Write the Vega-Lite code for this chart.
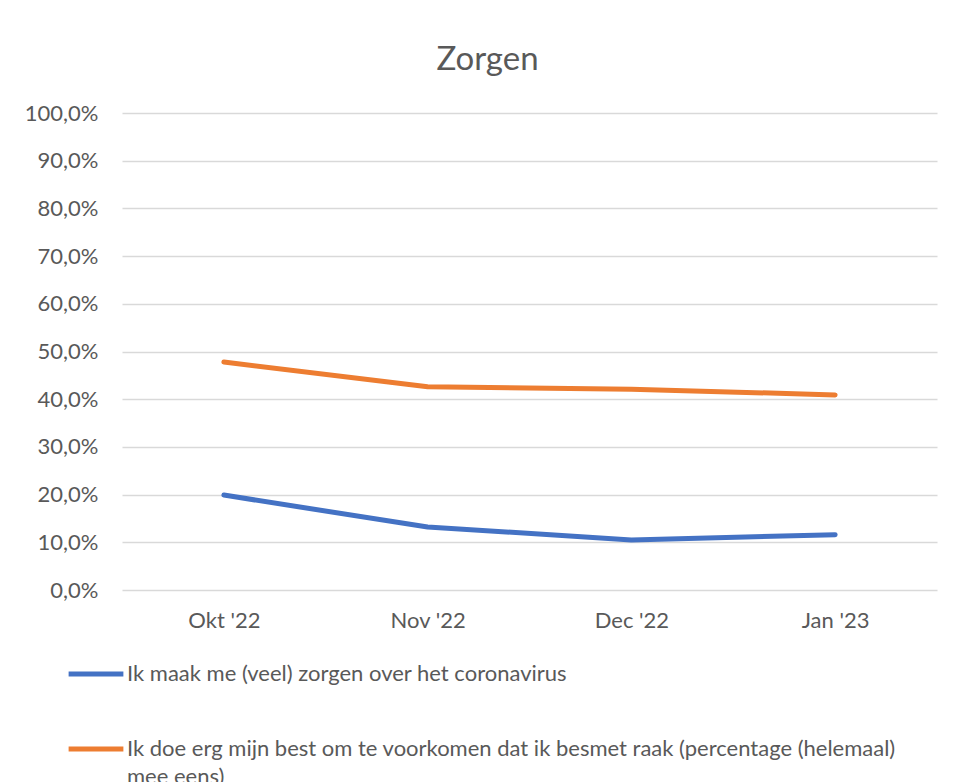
{
  "$schema": "https://vega.github.io/schema/vega-lite/v6.json",
  "width": 815,
  "height": 477,
  "autosize": "none",
  "padding": {"left": 122, "top": 113, "right": 17, "bottom": 192},
  "background": "white",
  "title": {
    "text": "Zorgen",
    "fontSize": 33,
    "font": "Lato",
    "fontWeight": "normal",
    "color": "#595959",
    "anchor": "middle",
    "dx": -42,
    "offset": 25
  },
  "data": {
    "values": [
      {"maand": "Okt '22", "reeks": "Ik maak me (veel) zorgen over het coronavirus", "waarde": 0.199},
      {"maand": "Nov '22", "reeks": "Ik maak me (veel) zorgen over het coronavirus", "waarde": 0.132},
      {"maand": "Dec '22", "reeks": "Ik maak me (veel) zorgen over het coronavirus", "waarde": 0.105},
      {"maand": "Jan '23", "reeks": "Ik maak me (veel) zorgen over het coronavirus", "waarde": 0.116},
      {"maand": "Okt '22", "reeks": "Ik doe erg mijn best om te voorkomen dat ik besmet raak (percentage (helemaal) mee eens)", "waarde": 0.478},
      {"maand": "Nov '22", "reeks": "Ik doe erg mijn best om te voorkomen dat ik besmet raak (percentage (helemaal) mee eens)", "waarde": 0.426},
      {"maand": "Dec '22", "reeks": "Ik doe erg mijn best om te voorkomen dat ik besmet raak (percentage (helemaal) mee eens)", "waarde": 0.421},
      {"maand": "Jan '23", "reeks": "Ik doe erg mijn best om te voorkomen dat ik besmet raak (percentage (helemaal) mee eens)", "waarde": 0.409}
    ]
  },
  "mark": {"type": "line", "strokeWidth": 5, "strokeCap": "round", "strokeJoin": "round"},
  "encoding": {
    "x": {
      "field": "maand",
      "type": "ordinal",
      "sort": ["Okt '22", "Nov '22", "Dec '22", "Jan '23"],
      "scale": {"type": "point", "padding": 0.5},
      "axis": {
        "title": null,
        "labelAngle": 0,
        "domain": false,
        "ticks": false,
        "grid": false,
        "labelPadding": 20,
        "labelFontSize": 22,
        "labelFont": "Lato",
        "labelColor": "#595959"
      }
    },
    "y": {
      "field": "waarde",
      "type": "quantitative",
      "scale": {"domain": [0, 1]},
      "axis": {
        "title": null,
        "values": [0, 0.1, 0.2, 0.3, 0.4, 0.5, 0.6, 0.7, 0.8, 0.9, 1],
        "labelExpr": "replace(format(datum.value, '.1%'), '.', ',')",
        "domain": false,
        "ticks": false,
        "grid": true,
        "gridColor": "#d9d9d9",
        "gridWidth": 1.5,
        "labelPadding": 24,
        "labelFontSize": 22,
        "labelFont": "Lato",
        "labelColor": "#595959"
      }
    },
    "color": {
      "field": "reeks",
      "type": "nominal",
      "scale": {
        "domain": [
          "Ik maak me (veel) zorgen over het coronavirus",
          "Ik doe erg mijn best om te voorkomen dat ik besmet raak (percentage (helemaal) mee eens)"
        ],
        "range": ["#4472C4", "#ED7D31"]
      },
      "legend": {
        "title": null,
        "orient": "none",
        "legendX": -56,
        "legendY": 531,
        "direction": "vertical",
        "symbolType": "stroke",
        "symbolSize": 3000,
        "symbolStrokeWidth": 5,
        "labelFontSize": 22,
        "labelFont": "Lato",
        "labelColor": "#595959",
        "labelLimit": 2000,
        "labelOffset": 1,
        "rowPadding": 34,
        "labelBaseline": "middle",
        "labelExpr": "datum.label == 'Ik maak me (veel) zorgen over het coronavirus' ? datum.label : ['Ik doe erg mijn best om te voorkomen dat ik besmet raak (percentage (helemaal)', 'mee eens)']"
      }
    }
  },
  "config": {"view": {"stroke": null}, "style": {"guide-label": {"lineHeight": 28}}}
}
